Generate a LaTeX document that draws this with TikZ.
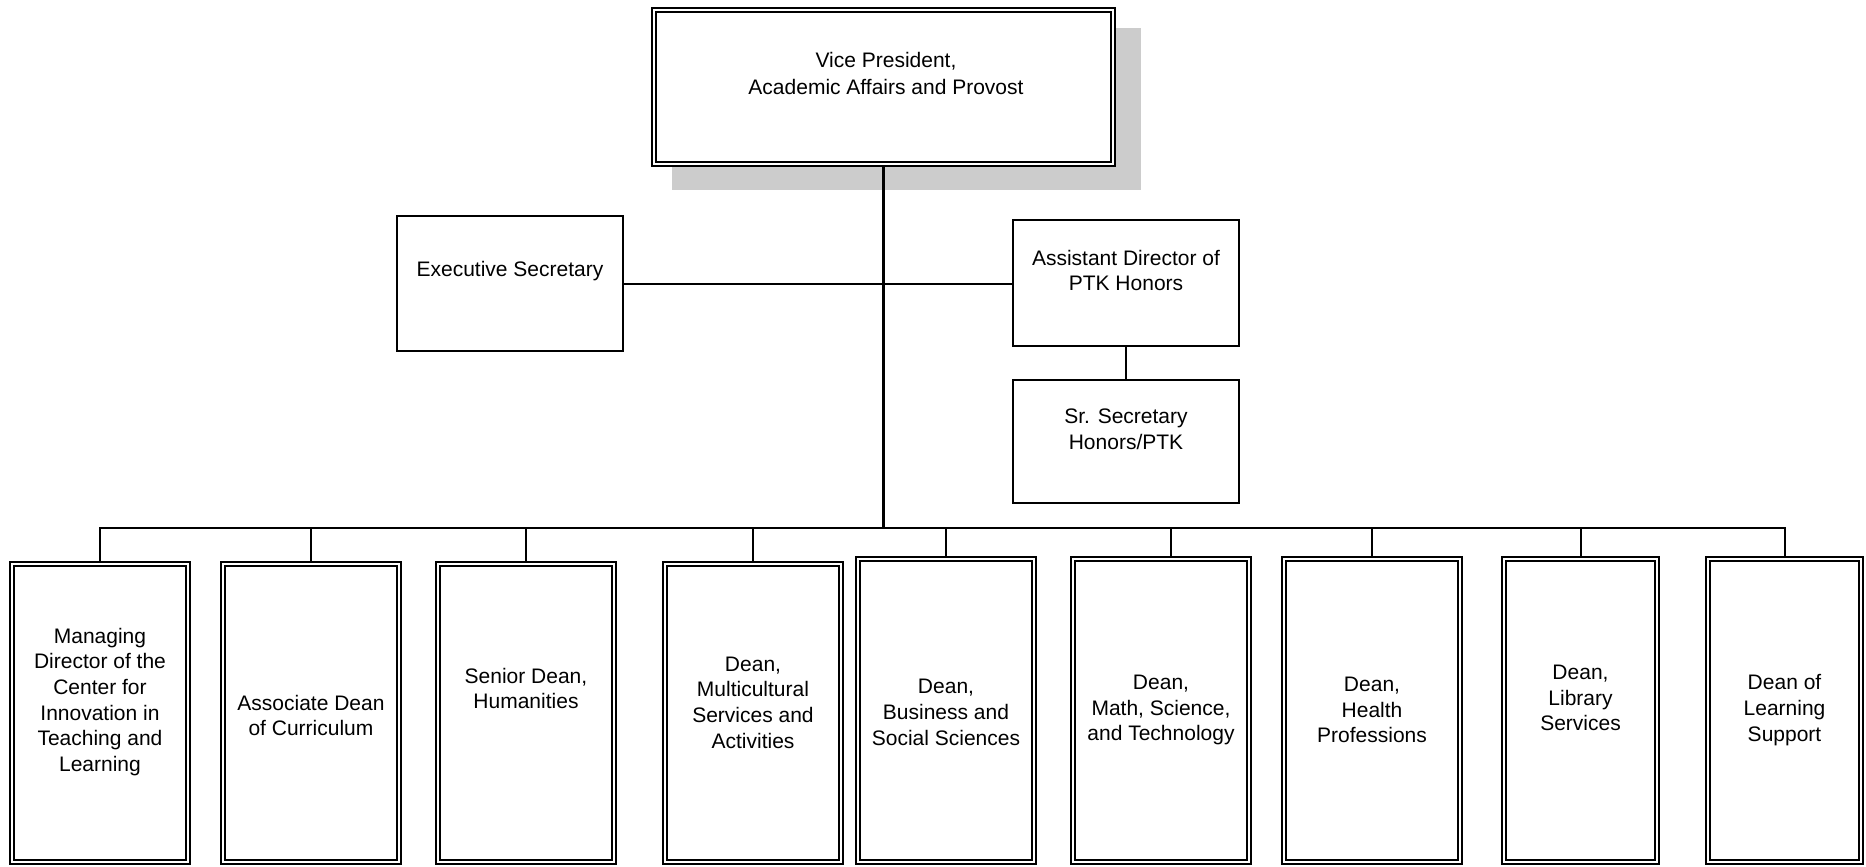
\documentclass[tikz,border=0pt]{standalone}
\usepackage{fontspec}
\setmainfont{Liberation Sans}
\usepackage{tikz}
\tikzset{%
    orgbox/.style={draw, fill=white, line width=1.8pt, inner sep=0pt},
    deanbox/.style={draw, fill=white, double, line width=1.7pt, double distance=2.8pt, inner sep=0pt, minimum width=176pt},
    orgtext/.style={align=center, inner sep=0pt, font=\fontsize{21}{25.7}\selectfont},
    link/.style={line width=2pt},
}
\usetikzlibrary{backgrounds}

\begin{document}
\begin{tikzpicture}[x=1pt, y=-1pt]
	\useasboundingbox (0,0) rectangle (1866,867);

	\node[deanbox, minimum width=459pt, minimum height=154pt] (vp) at (883.5,87) {};
	\node[orgtext, font=\fontsize{21}{27}\selectfont] (vpt) at (886,73.5) {Vice President,\\Academic Affairs and Provost};

	\node[orgbox, minimum width=226pt, minimum height=135pt] (exec) at (510,283.5) {};
	\node[orgtext] (exect) at (510,271) {Executive Secretary};

	\node[orgbox, minimum width=226pt, minimum height=126pt] (ptk) at (1126,283) {};
	\node[orgtext] (ptkt) at (1126,270.5) {Assistant Director of\\PTK Honors};

	\node[orgbox, minimum width=226pt, minimum height=123pt] (srsec) at (1126,441.5) {};
	\node[orgtext] (srsect) at (1126,429.5) {Sr. Secretary\\Honors/PTK};

	\coordinate (bus) at (883.5,528);

	\node[deanbox, minimum height=298pt] (d1) at (100,713) {};
	\node[deanbox, minimum height=298pt] (d2) at (311,713) {};
	\node[deanbox, minimum height=298pt] (d3) at (526,713) {};
	\node[deanbox, minimum height=298pt] (d4) at (753,713) {};
	\node[deanbox, minimum height=303pt] (d5) at (946,710.5) {};
	\node[deanbox, minimum height=303pt] (d6) at (1161,710.5) {};
	\node[deanbox, minimum height=303pt] (d7) at (1372,710.5) {};
	\node[deanbox, minimum height=303pt, minimum width=153pt] (d8) at (1580.5,710.5) {};
	\node[deanbox, minimum height=303pt, minimum width=153pt] (d9) at (1784.5,710.5) {};

	\node[orgtext] (t1) at (100,702) {Managing\\Director of the\\Center for\\Innovation in\\Teaching and\\Learning};
	\node[orgtext] (t2) at (311,715.5) {Associate Dean\\of Curriculum};
	\node[orgtext] (t3) at (526,688.5) {Senior Dean,\\Humanities};
	\node[orgtext] (t4) at (753,702.5) {Dean,\\Multicultural\\Services and\\Activities};
	\node[orgtext] (t5) at (946,712.5) {Dean,\\Business and\\Social Sciences};
	\node[orgtext] (t6) at (1161,710) {Dean,\\Math, Science,\\and Technology};
	\node[orgtext] (t7) at (1372,710) {Dean,\\Health\\Professions};
	\node[orgtext] (t8) at (1580.5,698) {Dean,\\Library\\Services};
	\node[orgtext] (t9) at (1784.5,710) {Dean of\\Learning\\Support};

	\begin{scope}[on background layer]
		% shadow of the top box
		\fill[black!20] ([shift={(19,19)}]vp.north west) rectangle ([shift={(27,25)}]vp.south east);
		\draw[link, line width=3.5pt] (vp) -- (bus);
		\draw[link] (exec) -- (exec -| ptk);
		\draw[link] (ptk) -- (srsec);
		\foreach \d in {d1,d2,d3,d4,d5,d7,d8,d9}
			\draw[link] (\d) |- (bus);
		\draw[link] ([xshift=10pt]d6.center) |- (bus);
	\end{scope}
\end{tikzpicture}
\end{document}
